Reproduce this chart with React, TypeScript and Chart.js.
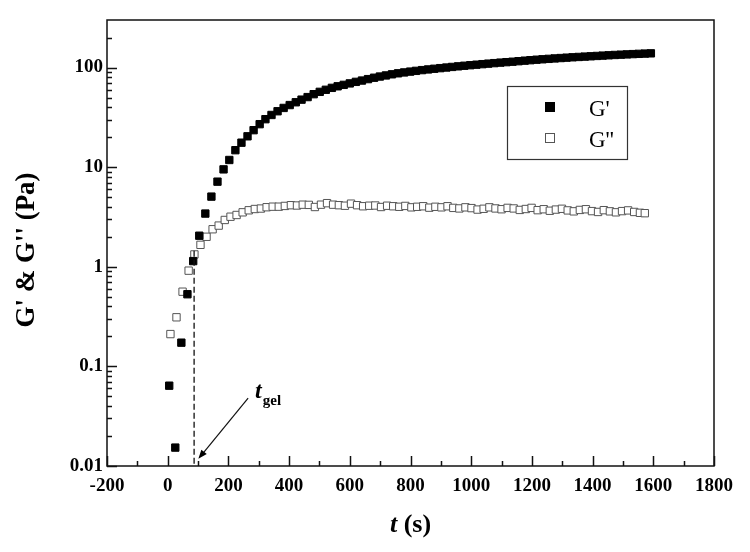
import { useEffect, useRef } from "react";
import { Chart, registerables } from "chart.js";

Chart.register(...registerables);

// ---- data ----
const timesGp = [
  5, 25, 45, 65, 84, 104, 124, 144, 164, 184, 203, 223, 243, 263, 283, 303, 322, 342, 362, 382,
  402, 422, 441, 461, 481, 501, 521, 541, 560, 580, 600, 620, 640, 660, 680, 699, 719, 739, 759, 779,
  799, 818, 838, 858, 878, 898, 918, 937, 957, 977, 997, 1017, 1037, 1056, 1076, 1096, 1116, 1136, 1156, 1176,
  1195, 1215, 1235, 1255, 1275, 1295, 1314, 1334, 1354, 1374, 1394, 1414, 1433, 1453, 1473, 1493, 1513, 1533, 1552, 1572,
  1592,
];
const storageModulus = [
  0.064, 0.0153, 0.173, 0.53, 1.14, 2.05, 3.42, 5.06, 7.15, 9.5, 11.8, 14.8, 17.6, 20.4, 23.5, 27.0, 30.3, 33.4, 36.4, 39.3,
  42.0, 44.8, 47.6, 50.5, 54.0, 57.0, 59.8, 62.5, 64.8, 67.0, 69.3, 71.8, 74.0, 76.5, 79.0, 81.2, 83.3, 85.5, 87.5, 89.3,
  91.0, 92.6, 94.2, 95.7, 97.2, 98.6, 100.0, 101.4, 102.8, 104.2, 105.5, 106.8, 108.1, 109.4, 110.7, 112.0, 113.2, 114.4, 115.8, 117.2,
  118.5, 119.8, 121.0, 122.2, 123.4, 124.5, 125.6, 126.7, 127.7, 128.7, 129.7, 130.7, 131.7, 132.7, 133.7, 134.6, 135.5, 136.4, 137.2, 138.0,
  138.8,
];
const timesGpp = [
  9, 29, 49, 69, 88, 108, 128, 148, 168, 188, 207, 227, 247, 267, 287, 307, 326, 346, 366, 386,
  406, 426, 445, 465, 485, 505, 525, 545, 564, 584, 604, 624, 644, 664, 684, 703, 723, 743, 763, 783,
  803, 822, 842, 862, 882, 902, 922, 941, 961, 981, 1001, 1021, 1041, 1060, 1080, 1100, 1120, 1140, 1160, 1180,
  1199, 1219, 1239, 1259, 1279, 1299, 1318, 1338, 1358, 1378, 1398, 1418, 1437, 1457, 1477, 1497, 1517, 1537, 1556, 1572,
];
const lossModulus = [
  0.211, 0.311, 0.562, 0.914, 1.33, 1.66, 2.0, 2.38, 2.59, 2.95, 3.18, 3.31, 3.52, 3.69, 3.8, 3.84, 3.96, 4.01, 4.01, 4.08,
  4.15, 4.12, 4.2, 4.18, 3.98, 4.2, 4.35, 4.2, 4.15, 4.1, 4.3, 4.15, 4.05, 4.1, 4.12, 3.98, 4.1, 4.05, 4.0, 4.08,
  3.95, 4.0, 4.05, 3.92, 4.0, 3.95, 4.05, 3.9, 3.85, 3.95, 3.88, 3.75, 3.82, 3.95, 3.85, 3.78, 3.9, 3.85, 3.72, 3.8,
  3.9, 3.7, 3.78, 3.65, 3.75, 3.82, 3.68, 3.6, 3.72, 3.78, 3.62, 3.55, 3.7, 3.6, 3.52, 3.62, 3.68, 3.55, 3.48, 3.45,
];

const xMin = -200;
const xMax = 1800;
const xMajorStep = 200;
const xMinorStep = 100;
const yMin = 0.01;
const yMax = 300;
const yTickValues = [0.01, 0.1, 1, 10, 100];

const seriesLabels = ["G'", "G''"];
const xTitleItalic = "t";
const xTitleRest = " (s)";
const yTitle = "G' & G'' (Pa)";

// gel point annotation (data coordinates)
const gelTime = 87;
const gelLineTop = 1.45;
const arrowFrom = { t: 265, g: 0.048 };
const arrowTo = { t: 101, g: 0.0118 };
const gelLabelAt = { t: 288, g: 0.048 };
const gelMain = "t";
const gelSub = "gel";

const SERIF = '"Liberation Serif", "Times New Roman", serif';

const decorPlugin = {
  id: "decor",
  afterDraw(chart: any) {
    const { ctx, chartArea: a } = chart;
    const x = chart.scales.x;
    const y = chart.scales.y;
    ctx.save();

    // frame
    ctx.strokeStyle = "#111";
    ctx.lineWidth = 1.5;
    ctx.strokeRect(a.left, a.top, a.right - a.left, a.bottom - a.top);

    // inward ticks
    ctx.beginPath();
    for (let v = xMin; v <= xMax; v += xMinorStep) {
      const px = Math.round(x.getPixelForValue(v)) + 0.5;
      const len = Math.abs(v % xMajorStep) === 0 ? 10 : 5;
      ctx.moveTo(px, a.bottom);
      ctx.lineTo(px, a.bottom - len);
    }
    for (let e = -2; e <= 2; e++) {
      for (let m = 1; m <= 9; m++) {
        const v = m * Math.pow(10, e);
        if (v < yMin * 0.999 || v >= yMax * 0.999) continue;
        const py = Math.round(y.getPixelForValue(v)) + 0.5;
        const len = m === 1 ? 10 : 5;
        ctx.moveTo(a.left, py);
        ctx.lineTo(a.left + len, py);
      }
    }
    ctx.stroke();

    // dashed gel line
    ctx.beginPath();
    ctx.setLineDash([6, 3]);
    ctx.lineWidth = 1.3;
    const gx = x.getPixelForValue(gelTime);
    ctx.moveTo(gx, y.getPixelForValue(gelLineTop));
    ctx.lineTo(gx, a.bottom);
    ctx.stroke();
    ctx.setLineDash([]);

    // arrow
    const x1 = x.getPixelForValue(arrowFrom.t);
    const y1 = y.getPixelForValue(arrowFrom.g);
    const x2 = x.getPixelForValue(arrowTo.t);
    const y2 = y.getPixelForValue(arrowTo.g);
    const ang = Math.atan2(y2 - y1, x2 - x1);
    const headLen = 9;
    const headW = 3.5;
    ctx.beginPath();
    ctx.lineWidth = 1.2;
    ctx.moveTo(x1, y1);
    ctx.lineTo(x2 - Math.cos(ang) * headLen * 0.8, y2 - Math.sin(ang) * headLen * 0.8);
    ctx.stroke();
    ctx.beginPath();
    ctx.fillStyle = "#000";
    ctx.moveTo(x2, y2);
    ctx.lineTo(
      x2 - Math.cos(ang) * headLen - Math.sin(ang) * headW,
      y2 - Math.sin(ang) * headLen + Math.cos(ang) * headW
    );
    ctx.lineTo(
      x2 - Math.cos(ang) * headLen + Math.sin(ang) * headW,
      y2 - Math.sin(ang) * headLen - Math.cos(ang) * headW
    );
    ctx.closePath();
    ctx.fill();

    // t_gel label
    const lx = x.getPixelForValue(gelLabelAt.t);
    const ly = y.getPixelForValue(gelLabelAt.g);
    ctx.textAlign = "left";
    ctx.textBaseline = "alphabetic";
    ctx.font = `italic bold 24px ${SERIF}`;
    ctx.fillText(gelMain, lx, ly);
    const tw = ctx.measureText(gelMain).width;
    ctx.font = `bold 15px ${SERIF}`;
    ctx.fillText(gelSub, lx + tw + 1, ly + 7);

    // legend
    ctx.strokeStyle = "#333";
    ctx.lineWidth = 1.2;
    ctx.strokeRect(507.5, 86.5, 120, 73);
    ctx.fillStyle = "#000";
    ctx.fillRect(545, 102, 10, 10);
    ctx.fillStyle = "#fff";
    ctx.strokeStyle = "#555";
    ctx.lineWidth = 1;
    ctx.fillRect(545.5, 133.5, 9, 9);
    ctx.strokeRect(545.5, 133.5, 9, 9);
    ctx.fillStyle = "#000";
    ctx.font = `23px ${SERIF}`;
    ctx.fillText(seriesLabels[0], 589, 116);
    ctx.fillText(seriesLabels[1], 589, 147);

    // axis titles
    ctx.textBaseline = "alphabetic";
    ctx.font = `italic bold 26px ${SERIF}`;
    const w1 = ctx.measureText(xTitleItalic).width;
    ctx.font = `bold 26px ${SERIF}`;
    const w2 = ctx.measureText(xTitleRest).width;
    const cx = (a.left + a.right) / 2;
    const sx = cx - (w1 + w2) / 2;
    ctx.font = `italic bold 26px ${SERIF}`;
    ctx.fillText(xTitleItalic, sx, 532);
    ctx.font = `bold 26px ${SERIF}`;
    ctx.fillText(xTitleRest, sx + w1, 532);

    ctx.save();
    ctx.translate(27, 250);
    ctx.rotate(-Math.PI / 2);
    ctx.textAlign = "center";
    ctx.textBaseline = "middle";
    ctx.font = `bold 27px ${SERIF}`;
    ctx.fillText(yTitle, 0, 0);
    ctx.restore();

    ctx.restore();
  },
};

export default function App() {
  const ref = useRef<HTMLCanvasElement | null>(null);

  useEffect(() => {
    document.body.style.margin = "0";
    const canvas = ref.current;
    if (!canvas) return;
    const chart = new Chart(canvas, {
      type: "scatter",
      data: {
        datasets: [
          {
            label: seriesLabels[0],
            data: timesGp.map((t, i) => ({ x: t, y: storageModulus[i] })),
            pointStyle: "rect",
            pointRadius: 5.2,
            backgroundColor: "#000",
            borderColor: "#000",
            borderWidth: 1,
            showLine: false,
          },
          {
            label: seriesLabels[1],
            data: timesGpp.map((t, i) => ({ x: t, y: lossModulus[i] })),
            pointStyle: "rect",
            pointRadius: 5.2,
            backgroundColor: "#fff",
            borderColor: "#555",
            borderWidth: 1,
            showLine: false,
          },
        ],
      },
      options: {
        responsive: false,
        animation: false,
        devicePixelRatio: 1,
        layout: { padding: { left: 0, top: 20, right: 36, bottom: 0 } },
        plugins: { legend: { display: false }, tooltip: { enabled: false } },
        scales: {
          x: {
            type: "linear",
            min: xMin,
            max: xMax,
            grid: { display: false, drawTicks: false },
            border: { display: false },
            ticks: {
              stepSize: xMajorStep,
              padding: 9,
              color: "#000",
              font: { family: SERIF, size: 19, weight: "bold" },
              callback: (v: any) => String(v),
              maxRotation: 0,
            },
            afterFit: (s: any) => {
              s.height = 86;
            },
          },
          y: {
            type: "logarithmic",
            min: yMin,
            max: yMax,
            grid: { display: false, drawTicks: false },
            border: { display: false },
            afterBuildTicks: (s: any) => {
              s.ticks = yTickValues.map((v) => ({ value: v }));
            },
            ticks: {
              padding: 4,
              color: "#000",
              autoSkip: false,
              font: { family: SERIF, size: 19, weight: "bold" },
              callback: (v: any) => String(v),
            },
            afterFit: (s: any) => {
              s.width = 107;
            },
          },
        },
      },
      plugins: [decorPlugin],
    } as any);
    return () => chart.destroy();
  }, []);

  return (
    <div style={{ width: 750, height: 552, background: "#fff" }}>
      <canvas ref={ref} width={750} height={552} style={{ display: "block" }} />
    </div>
  );
}
